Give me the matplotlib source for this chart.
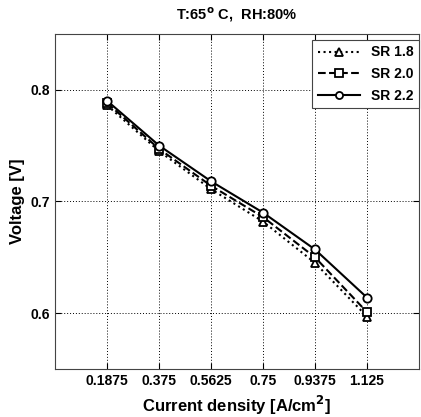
import matplotlib
matplotlib.use("Agg")
import matplotlib.pyplot as plt

# current density [A/cm2] and cell voltage [V] per stoichiometric ratio
current = [0.1875, 0.375, 0.5625, 0.75, 0.9375, 1.125]
tick_labels = ["0.1875", "0.375", "0.5625", "0.75", "0.9375", "1.125"]
v_sr18 = [0.786, 0.745, 0.711, 0.682, 0.645, 0.597]
v_sr20 = [0.788, 0.747, 0.714, 0.686, 0.650, 0.601]
v_sr22 = [0.790, 0.750, 0.718, 0.690, 0.657, 0.614]

plt.rcParams.update({
    "font.family": "sans-serif",
    "font.sans-serif": ["Liberation Sans", "DejaVu Sans"],
    "font.weight": "bold",
    "font.size": 10,
})

fig = plt.figure(figsize=(4.21, 4.17), dpi=100)
ax = fig.add_axes([0.131, 0.115, 0.864, 0.804])

series = [
    (v_sr18, ":", "^", "SR 1.8"),
    (v_sr20, "--", "s", "SR 2.0"),
    (v_sr22, "-", "o", "SR 2.2"),
]
for vals, ls, mk, lab in series:
    ax.plot(current, vals, color="black", linestyle=ls, marker=mk, lw=1.5,
            markersize=6, markerfacecolor="white", markeredgecolor="black",
            markeredgewidth=1.3, label=lab)

ax.set_xlim(0, 1.3125)
ax.set_ylim(0.55, 0.85)
ax.set_xticks(current)
ax.set_xticklabels(tick_labels)
ax.set_yticks([0.6, 0.7, 0.8])
ax.tick_params(direction="in", top=True, right=True, length=4, labelsize=10)
ax.grid(True, linestyle=(0, (1, 2)), color="black", linewidth=0.7)

for s in ax.spines.values():
    s.set_color("#444444")
    s.set_linewidth(0.8)

ax.set_xlabel("Current density [A/cm$^\\mathbf{2}$]", fontsize=12, fontweight="bold")
ax.set_ylabel("Voltage [V]", fontsize=12, fontweight="bold")
ax.set_title("T:65$^\\mathbf{o}$ C,  RH:80%", fontsize=10.5, fontweight="bold", pad=10)

leg = ax.legend(loc="upper right", bbox_to_anchor=(1.0, 0.982), fancybox=False,
                edgecolor="#444444", framealpha=1, handlelength=3, fontsize=10,
                borderaxespad=0, labelspacing=0.55, markerscale=0.85)
leg.get_frame().set_linewidth(0.8)

fig.savefig("out.png", dpi=100)
